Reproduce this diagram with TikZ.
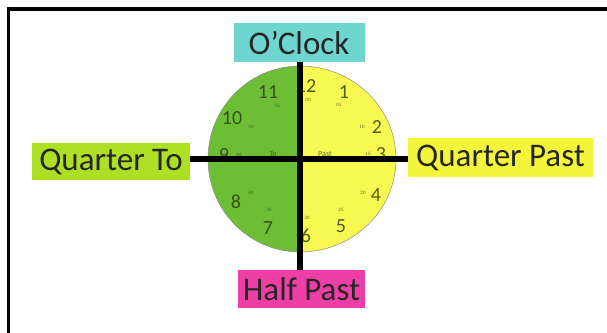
\documentclass[tikz,border=0pt]{standalone}
\usepackage{fontspec}
\setmainfont{Carlito}
\definecolor{turq}{RGB}{110,214,206}
\definecolor{pinkbox}{RGB}{238,63,166}
\definecolor{limebox}{RGB}{173,224,36}
\definecolor{yelbox}{RGB}{243,245,58}
\definecolor{facegreen}{RGB}{108,190,52}
\definecolor{faceyellow}{RGB}{248,248,82}
\definecolor{numdark}{RGB}{40,55,15}
\tikzset{
  label box/.style={inner sep=0pt, font=\fontsize{33}{36}\selectfont, text=black!85},
  hour/.style={font=\fontsize{20}{22}\selectfont, text=numdark, opacity=0.8},
  minute/.style={font=\fontsize{5}{6}\selectfont, text=numdark, opacity=0.7},
  bar/.style={line width=5.5pt, black},
}
\begin{document}
\begin{tikzpicture}[x=1pt,y=-1pt]
\useasboundingbox (0,0) rectangle (607,332);
\fill[white] (0,0) rectangle (607,332);
% frame
\draw[line width=3.5pt] (8.5,340) -- (8.5,9) -- (620,9);
% clock face
\coordinate (c) at (300,159);
\fill[facegreen] (300,66) arc[start angle=-90, end angle=-270, x radius=92, y radius=93] -- cycle;
\fill[faceyellow] (300,66) arc[start angle=-90, end angle=90, x radius=96, y radius=93] -- cycle;
\draw[black!45, line width=0.5pt] (300,66) arc[start angle=-90, end angle=-270, x radius=92, y radius=93];
\draw[black!45, line width=0.5pt] (300,66) arc[start angle=-90, end angle=90, x radius=96, y radius=93];
% hour numbers
\node[hour] (h12) at (306,86) {12};
\node[hour] (h1) at (344,92) {1};
\node[hour] (h2) at (377,127) {2};
\node[hour] (h3) at (381,154) {3};
\node[hour] (h4) at (376,195) {4};
\node[hour] (h5) at (341,226) {5};
\node[hour] (h6) at (306,236) {6};
\node[hour] (h7) at (268,228) {7};
\node[hour] (h8) at (236,202) {8};
\node[hour] (h9) at (224,155) {9};
\node[hour] (h10) at (232,118) {10};
\node[hour] (h11) at (268,92) {11};
% minute numbers
\node[minute] at (308,100) {00};
\node[minute] at (339,105) {05};
\node[minute] at (362,127) {10};
\node[minute] at (368,154) {15};
\node[minute] at (363,193) {20};
\node[minute] at (341,210) {25};
\node[minute] at (307,218) {30};
\node[minute] at (269,210) {35};
\node[minute] at (251,193) {40};
\node[minute] at (239,155) {45};
\node[minute] at (251,127) {50};
\node[minute] at (277,106) {55};
\node[minute, font=\fontsize{8}{9}\selectfont] at (325,154) {Past};
\node[minute, font=\fontsize{8}{9}\selectfont] at (273,154) {To};
% label boxes
\node[label box, fill=turq, minimum width=131pt, minimum height=39pt] (oclock) at (299,42.5) {O’Clock};
\node[label box, fill=pinkbox, minimum width=127pt, minimum height=38pt] (halfpast) at (301.5,289) {Half Past};
\node[label box, fill=limebox, minimum width=158pt, minimum height=37pt] (qto) at (111,161.5) {Quarter To};
\node[label box, fill=yelbox, minimum width=185pt, minimum height=39pt] (qpast) at (500.5,157.5) {Quarter Past};
% bars
\draw[bar] (oclock.south -| c) -- (halfpast.north -| c);
\draw[bar] (qto.east |- c) -- (qpast.west |- c);
\end{tikzpicture}
\end{document}
